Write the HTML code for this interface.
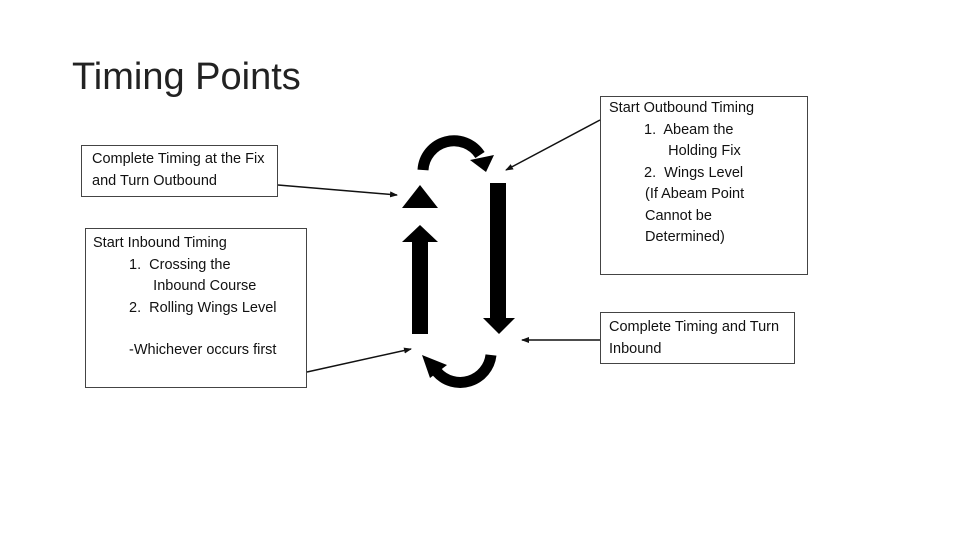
<html><head><style>
body{margin:0;width:960px;height:540px;background:#fff;position:relative;overflow:hidden;font-family:"Liberation Sans",sans-serif}
.b{position:absolute;border:1px solid #444;box-sizing:border-box;font-size:14.5px;line-height:21.5px;color:#111;padding:4px 8px}
</style></head><body>
<div style="position:absolute;left:72px;top:56px;font-size:38px;color:#222;font-weight:300">Timing Points</div>
<div class="b" style="left:81px;top:145px;width:197px;height:52px;padding:3px 10px">Complete Timing at the Fix and Turn Outbound</div>
<div class="b" style="left:85px;top:228px;width:222px;height:160px;padding:4px 7px">Start Inbound Timing<br>
<div style="padding-left:36px">1.&nbsp; Crossing the<br>&nbsp;&nbsp;&nbsp;&nbsp;&nbsp; Inbound Course<br>2.&nbsp; Rolling Wings Level</div>
<div style="padding-left:36px;margin-top:21px">-Whichever occurs first</div></div>
<div class="b" style="left:600px;top:96px;width:208px;height:179px;padding:1px 8px">Start Outbound Timing<br>
<div style="padding-left:35px">1.&nbsp; Abeam the<br>&nbsp;&nbsp;&nbsp;&nbsp;&nbsp; Holding Fix<br>2.&nbsp; Wings Level</div>
<div style="padding-left:36px">(If Abeam Point<br>Cannot be<br>Determined)</div></div>
<div class="b" style="left:600px;top:312px;width:195px;height:52px;padding:4px 8px">Complete Timing and Turn Inbound</div>
<svg width="960" height="540" style="position:absolute;left:0;top:0">
<defs><marker id="a" markerWidth="8" markerHeight="8" refX="7" refY="4" orient="auto" markerUnits="userSpaceOnUse"><path d="M0,1L8,4L0,7z" fill="#111"/></marker></defs>
<g stroke="#111" stroke-width="1.5" marker-end="url(#a)">
<line x1="278" y1="185" x2="397" y2="195"/>
<line x1="307" y1="372" x2="411" y2="349"/>
<line x1="600" y1="120" x2="506" y2="170"/>
<line x1="600" y1="340" x2="522" y2="340"/>
</g>
<polygon points="402,208 420,185 438,208" fill="#000"/>
<rect x="412" y="240" width="16" height="94" fill="#000"/>
<polygon points="402,242 420,225 438,242" fill="#000"/>
<rect x="490" y="183" width="16" height="137" fill="#000"/>
<polygon points="483,318 515,318 499,334" fill="#000"/>
<path d="M423,170 A31,31 0 0 1 480,155" fill="none" stroke="#000" stroke-width="11"/>
<polygon points="470,160 494,155 486,172" fill="#000"/>
<path d="M491,355 A31,31 0 0 1 437,372" fill="none" stroke="#000" stroke-width="11"/>
<polygon points="422,355 447,365 430,378" fill="#000"/>
</svg>
</body></html>
